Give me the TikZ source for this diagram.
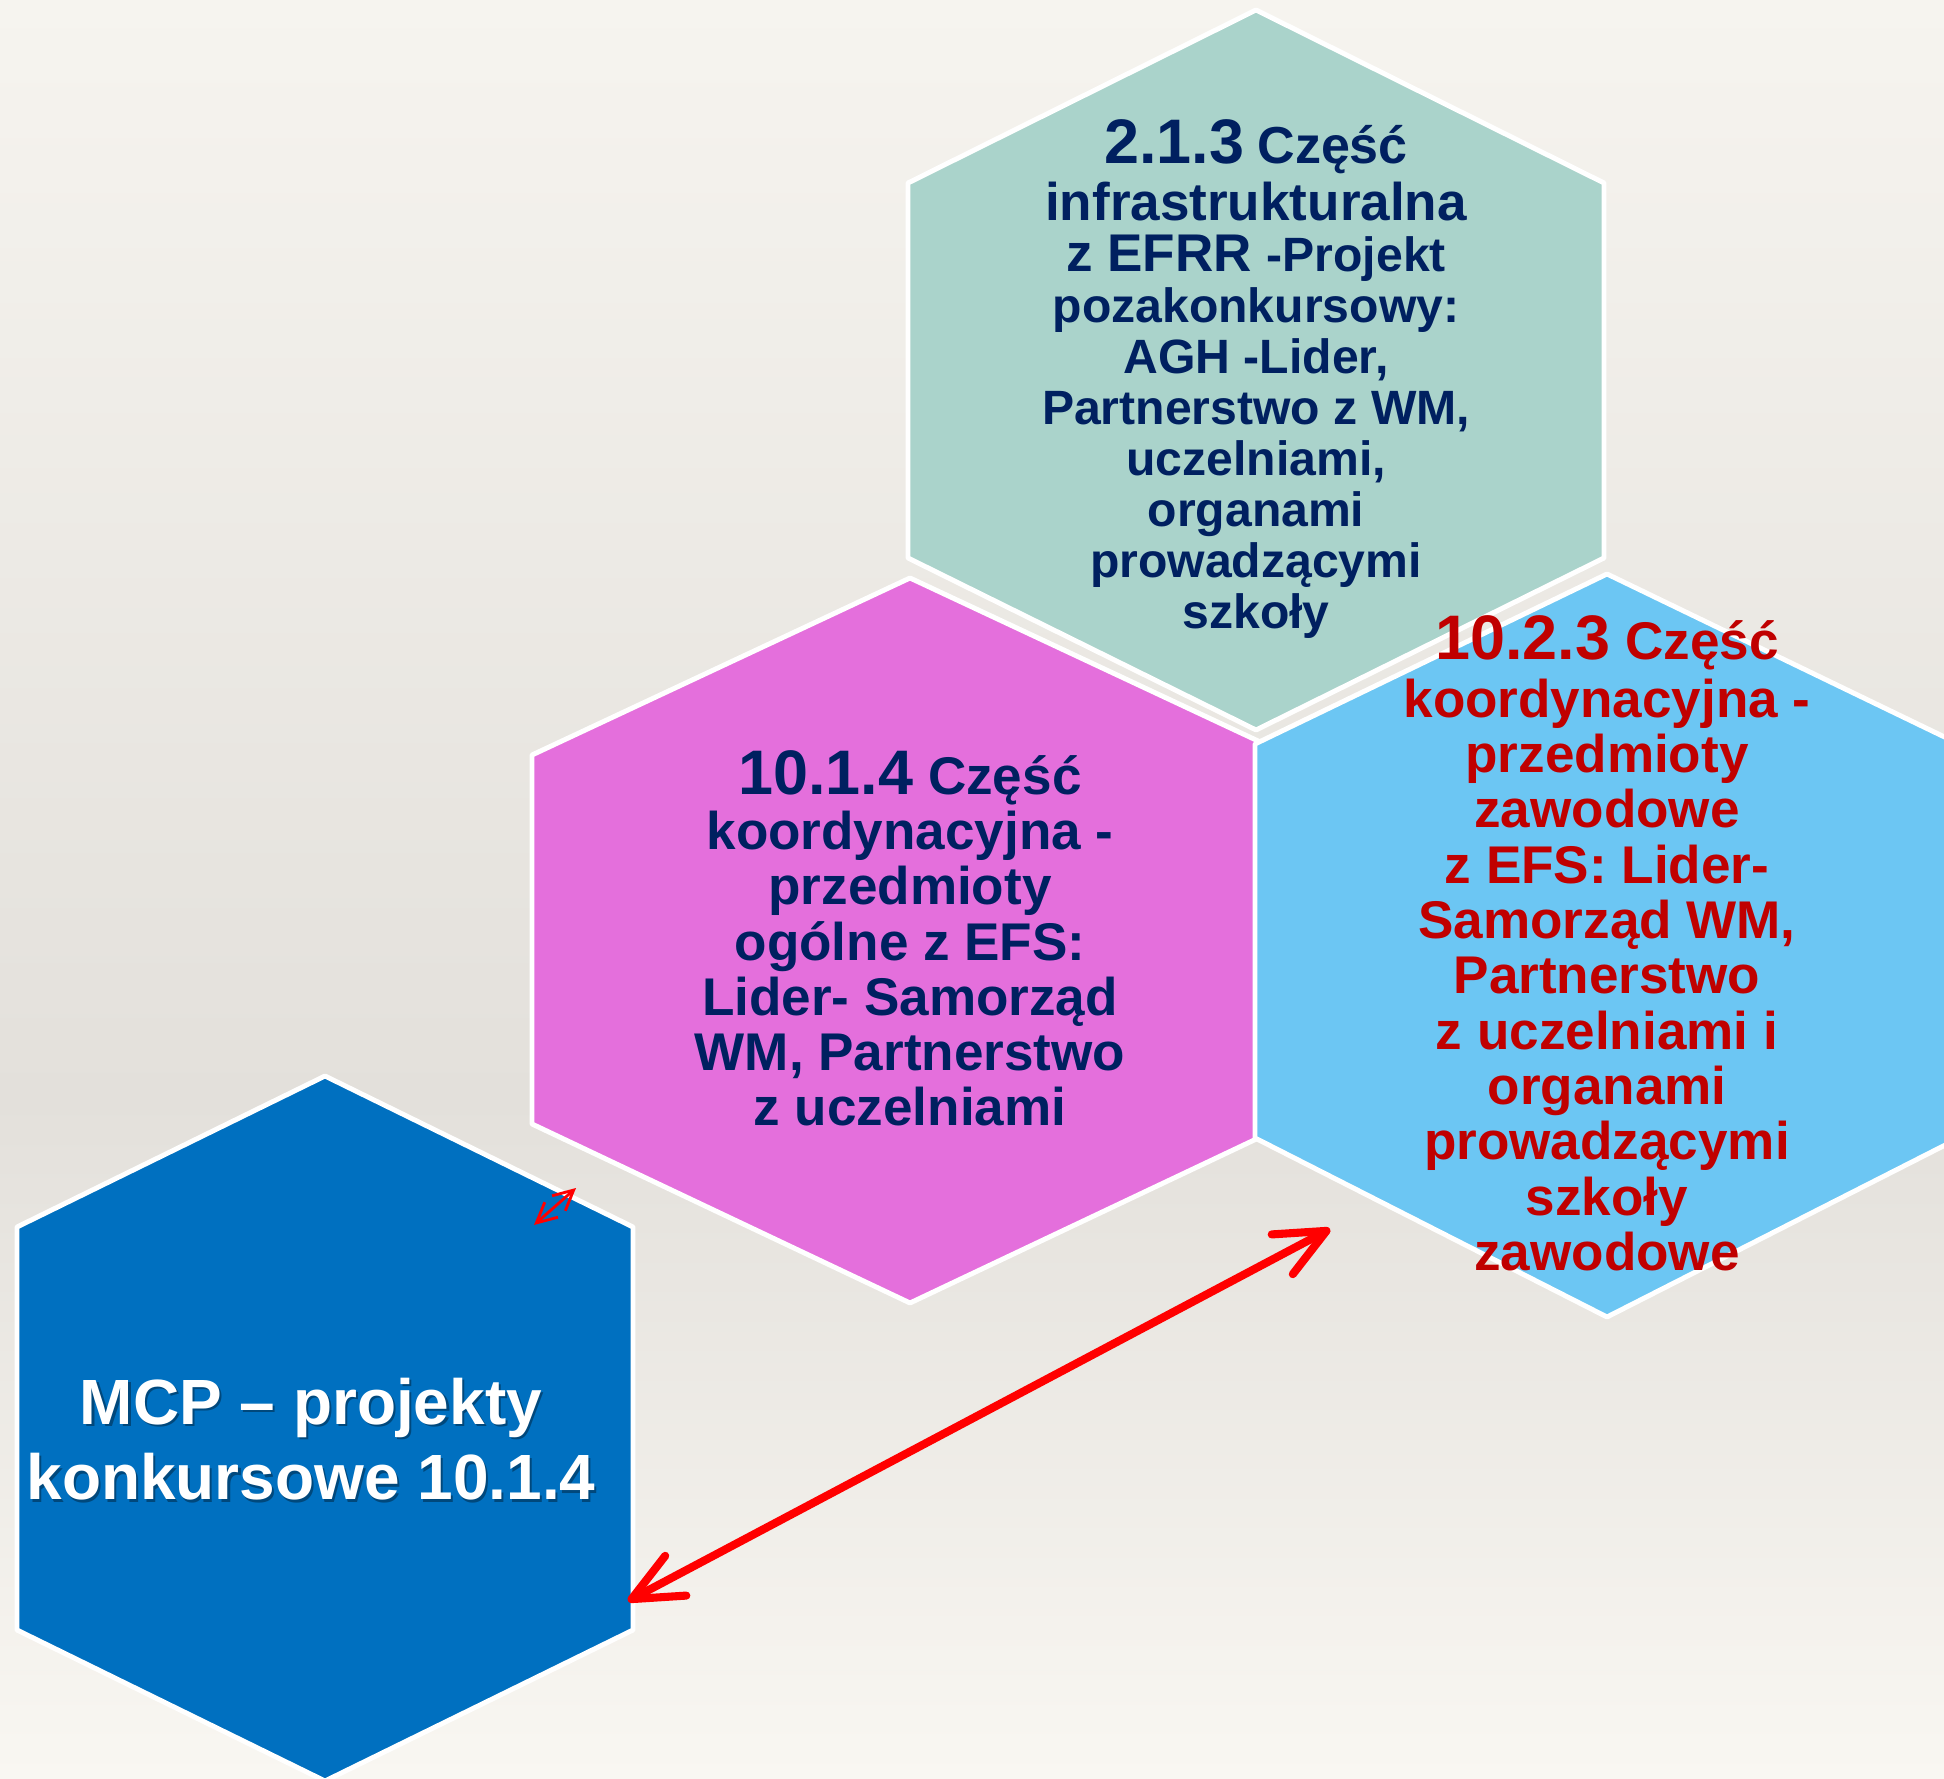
\documentclass[tikz,border=0pt]{standalone}
\usepackage{fontspec}
\setmainfont{Liberation Sans}
\usepackage{tkz-euclide}
\usetikzlibrary{arrows.meta}

\definecolor{tlogora}{RGB}{246,244,239}
\definecolor{tlosrodek}{RGB}{227,224,219}
\definecolor{tlodol}{RGB}{249,247,242}
\definecolor{hexteal}{RGB}{170,211,203}
\definecolor{hexroz}{RGB}{228,111,220}
\definecolor{hexjasny}{RGB}{108,198,243}
\definecolor{hexniebieski}{RGB}{0,112,192}
\definecolor{granat}{RGB}{0,32,96}
\definecolor{czerwien}{RGB}{192,0,0}

\tikzset{
  hexa/.style={draw=white,line width=1.4pt},
  blok/.style={anchor=north,align=center,inner sep=0pt},
  duza/.style={draw=red,line width=2.3pt,line cap=round,
    {Straight Barb[length=5mm,width=4.5mm,round]}-{Straight Barb[length=5mm,width=4.5mm,round]}},
  mala/.style={draw=red,line width=0.8pt,
    {Straight Barb[length=2mm,width=2mm]}-{Straight Barb[length=2mm,width=2mm]}}
}

\begin{document}
\begin{tikzpicture}
		\tkzDefPoints{0/0/O,19.44/17.78/Z,0/6.78/Q1,19.44/6.78/Q2}
		\clip (O) rectangle (Z);
		\shade[top color=tlogora,bottom color=tlosrodek] (Q1) rectangle (Z);
		\shade[top color=tlosrodek,bottom color=tlodol] (O) rectangle (Q2);
		% szesciokaty
		\tkzDefPoints{12.56/17.68/T1,16.04/15.95/T2,16.04/12.20/T3,12.56/10.48/T4,9.08/12.20/T5,9.08/15.95/T6}
		\tkzDefPoints{9.10/12.00/M1,12.88/10.23/M2,12.88/6.54/M3,9.10/4.75/M4,5.32/6.54/M5,5.32/10.23/M6}
		\tkzDefPoints{16.07/12.04/L1,19.59/10.34/L2,19.59/6.40/L3,16.07/4.61/L4,12.55/6.40/L5,12.55/10.34/L6}
		\tkzDefPoints{3.25/7.02/B1,6.33/5.51/B2,6.33/1.48/B3,3.25/-0.03/B4,0.17/1.48/B5,0.17/5.51/B6}
		\tkzDrawPolygon[hexa,fill=hexteal](T1,T2,T3,T4,T5,T6)
		\tkzDrawPolygon[hexa,fill=hexroz](M1,M2,M3,M4,M5,M6)
		\tkzDrawPolygon[hexa,fill=hexjasny](L1,L2,L3,L4,L5,L6)
		\tkzDrawPolygon[hexa,fill=hexniebieski](B1,B2,B3,B4,B5,B6)
		% strzalki
		\tkzDefPoints{6.28/1.77/P1,13.30/5.49/P2,5.34/5.53/S1,5.76/5.90/S2}
		\tkzDrawSegment[duza](P1,P2)
		\tkzDrawSegment[mala](S1,S2)
		% teksty
		\tkzDefPoints{12.56/16.59/TT,9.10/10.28/MT,16.07/11.63/LT,3.11/4.01/BT}
		\node[blok,text=granat,font=\fontsize{13.7}{14.5}\selectfont\bfseries] (tekst213) at (TT)
		  {{\fontsize{17.9}{14.5}\selectfont 2.1.3} {\fontsize{14.8}{14.5}\selectfont Część}\\[1.7pt]
		   {\fontsize{15.1}{14.5}\selectfont infrastrukturalna}\\
		   {\fontsize{15.1}{14.5}\selectfont z EFRR }-Projekt\\
		   pozakonkursowy:\\ AGH -Lider,\\ Partnerstwo z WM,\\ uczelniami,\\ organami\\
		   prowadzącymi\\ szkoły};
		\node[blok,text=granat,font=\fontsize{15.1}{15.7}\selectfont\bfseries] (tekst1014) at (MT)
		  {{\fontsize{17.9}{15.7}\selectfont 10.1.4} Część\\ koordynacyjna -\\ przedmioty\\
		   ogólne z EFS:\\ Lider- Samorząd\\ WM, Partnerstwo\\ z uczelniami};
		\node[blok,text=czerwien,font=\fontsize{15.1}{15.75}\selectfont\bfseries] (tekst1023) at (LT)
		  {{\fontsize{17.9}{15.75}\selectfont 10.2.3} Część\\[0.6pt] koordynacyjna -\\ przedmioty\\ zawodowe\\
		   z EFS: Lider-\\ Samorząd WM,\\ Partnerstwo\\ z uczelniami i\\ organami\\
		   prowadzącymi\\ szkoły\\ zawodowe};
		\node[blok,text=black,opacity=0.35,font=\fontsize{18.2}{21.6}\selectfont\bfseries,
		  xshift=0.6pt,yshift=-0.6pt] (cienmcp) at (BT) {MCP – projekty\\ konkursowe 10.1.4};
		\node[blok,text=white,font=\fontsize{18.2}{21.6}\selectfont\bfseries] (tekstmcp) at (BT)
		  {MCP – projekty\\ konkursowe 10.1.4};
\end{tikzpicture}
\end{document}
